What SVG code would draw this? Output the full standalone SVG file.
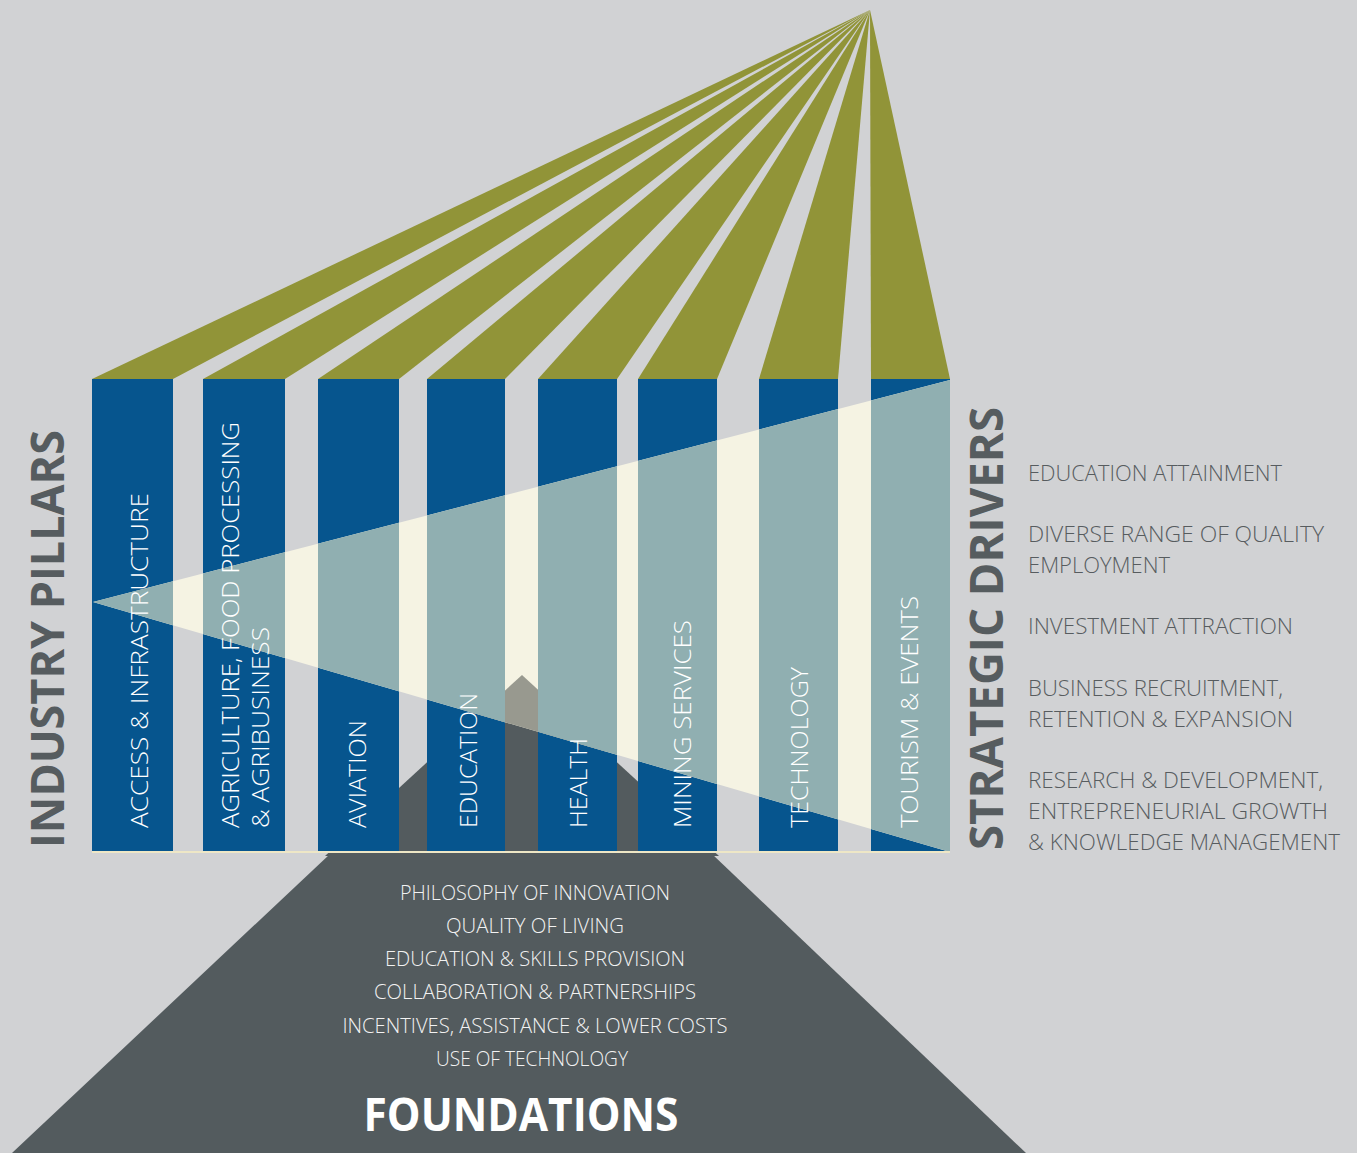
<svg xmlns="http://www.w3.org/2000/svg" width="1357" height="1153" viewBox="0 0 1357 1153">
<style>
.wedge{fill:#919438}
.pillar{fill:#06558E}
.pillar-lit{fill:#90AFB1}
.lbl{font-family:"Open Sans","Noto Sans","DejaVu Sans",sans-serif;font-weight:300;fill:#FFFFFF;font-size:24px}
.drv{font-family:"Open Sans","Noto Sans","DejaVu Sans",sans-serif;font-weight:300;fill:#575C5F;font-size:22px}
.fnd{font-family:"Open Sans","Noto Sans","DejaVu Sans",sans-serif;font-weight:300;fill:#F2F2F2;font-size:20px}
.title{font-family:"Open Sans","Noto Sans","DejaVu Sans",sans-serif;font-weight:700;fill:#565C5F;font-size:47px}
.ftitle{font-family:"Open Sans","Noto Sans","DejaVu Sans",sans-serif;font-weight:700;fill:#FFFFFF;font-size:46px}
</style>
<defs>
<clipPath id="beam">
<polygon points="93,602 950,380 950,852"/>
</clipPath>
</defs>
<rect x="0" y="0" width="1357" height="1153" fill="#D1D2D4"/>
<g id="wedges">
<polygon class="wedge" points="870,10 92,379 173,379"/>
<polygon class="wedge" points="870,10 203,379 285,379"/>
<polygon class="wedge" points="870,10 318,379 399,379"/>
<polygon class="wedge" points="870,10 427,379 505,379"/>
<polygon class="wedge" points="870,10 538,379 617,379"/>
<polygon class="wedge" points="870,10 638,379 717,379"/>
<polygon class="wedge" points="870,10 759,379 838,379"/>
<polygon class="wedge" points="870,10 871,379 950,379"/>
</g>
<polygon id="house" points="325,856 522,675 719,856" fill="#535B5E"/>
<g id="pillars">
<rect class="pillar" x="92" y="379" width="81" height="473"/>
<rect class="pillar" x="203" y="379" width="82" height="473"/>
<rect class="pillar" x="318" y="379" width="81" height="473"/>
<rect class="pillar" x="427" y="379" width="78" height="473"/>
<rect class="pillar" x="538" y="379" width="79" height="473"/>
<rect class="pillar" x="638" y="379" width="79" height="473"/>
<rect class="pillar" x="759" y="379" width="79" height="473"/>
<rect class="pillar" x="871" y="379" width="79" height="473"/>
</g>
<g id="beam-overlay" clip-path="url(#beam)">
<rect x="80" y="370" width="880" height="490" fill="#F5F3E3"/>
<polygon points="325,856 522,675 719,856" fill="#98998F"/>
<rect class="pillar-lit" x="92" y="379" width="81" height="473"/>
<rect class="pillar-lit" x="203" y="379" width="82" height="473"/>
<rect class="pillar-lit" x="318" y="379" width="81" height="473"/>
<rect class="pillar-lit" x="427" y="379" width="78" height="473"/>
<rect class="pillar-lit" x="538" y="379" width="79" height="473"/>
<rect class="pillar-lit" x="638" y="379" width="79" height="473"/>
<rect class="pillar-lit" x="759" y="379" width="79" height="473"/>
<rect class="pillar-lit" x="871" y="379" width="79" height="473"/>
</g>
<rect x="92" y="851" width="858" height="2" fill="#EEE7C6"/>
<g id="foundation">
<polygon points="330,854 712,854 1026,1153 12,1153" fill="#535B5E"/>
<text class="fnd" x="535" y="900" text-anchor="middle" textLength="270" lengthAdjust="spacingAndGlyphs">PHILOSOPHY OF INNOVATION</text>
<text class="fnd" x="535" y="933" text-anchor="middle" textLength="178" lengthAdjust="spacingAndGlyphs">QUALITY OF LIVING</text>
<text class="fnd" x="535" y="966" text-anchor="middle" textLength="300" lengthAdjust="spacingAndGlyphs">EDUCATION &amp; SKILLS PROVISION</text>
<text class="fnd" x="535" y="999" text-anchor="middle" textLength="322" lengthAdjust="spacingAndGlyphs">COLLABORATION &amp; PARTNERSHIPS</text>
<text class="fnd" x="535" y="1033" text-anchor="middle" textLength="385" lengthAdjust="spacingAndGlyphs">INCENTIVES, ASSISTANCE &amp; LOWER COSTS</text>
<text class="fnd" x="532" y="1066" text-anchor="middle" textLength="192" lengthAdjust="spacingAndGlyphs">USE OF TECHNOLOGY</text>
<text class="ftitle" x="521" y="1131" text-anchor="middle" textLength="315" lengthAdjust="spacingAndGlyphs">FOUNDATIONS</text>
</g>
<g id="pillar-labels">
<text class="lbl" transform="translate(148,828) rotate(-90)" textLength="335" lengthAdjust="spacingAndGlyphs">ACCESS &amp; INFRASTRUCTURE</text>
<text class="lbl" transform="translate(239,828) rotate(-90)" textLength="406" lengthAdjust="spacingAndGlyphs">AGRICULTURE, FOOD PROCESSING</text>
<text class="lbl" transform="translate(269,828) rotate(-90)" textLength="201" lengthAdjust="spacingAndGlyphs">&amp; AGRIBUSINESS</text>
<text class="lbl" transform="translate(366,828) rotate(-90)" textLength="108" lengthAdjust="spacingAndGlyphs">AVIATION</text>
<text class="lbl" transform="translate(477,828) rotate(-90)" textLength="135" lengthAdjust="spacingAndGlyphs">EDUCATION</text>
<text class="lbl" transform="translate(587,828) rotate(-90)" textLength="90" lengthAdjust="spacingAndGlyphs">HEALTH</text>
<text class="lbl" transform="translate(691,828) rotate(-90)" textLength="208" lengthAdjust="spacingAndGlyphs">MINING SERVICES</text>
<text class="lbl" transform="translate(808,828) rotate(-90)" textLength="161" lengthAdjust="spacingAndGlyphs">TECHNOLOGY</text>
<text class="lbl" transform="translate(918,828) rotate(-90)" textLength="232" lengthAdjust="spacingAndGlyphs">TOURISM &amp; EVENTS</text>
</g>
<g id="industry-pillars-title">
<text class="title" transform="translate(64,848) rotate(-90)" textLength="418" lengthAdjust="spacingAndGlyphs">INDUSTRY PILLARS</text>
</g>
<g id="strategic-drivers">
<text class="title" transform="translate(1003,850) rotate(-90)" textLength="443" lengthAdjust="spacingAndGlyphs">STRATEGIC DRIVERS</text>
<text class="drv" x="1028" y="481" textLength="254" lengthAdjust="spacingAndGlyphs">EDUCATION ATTAINMENT</text>
<text class="drv" x="1028" y="542" textLength="296" lengthAdjust="spacingAndGlyphs">DIVERSE RANGE OF QUALITY</text>
<text class="drv" x="1028" y="573" textLength="142" lengthAdjust="spacingAndGlyphs">EMPLOYMENT</text>
<text class="drv" x="1028" y="634" textLength="265" lengthAdjust="spacingAndGlyphs">INVESTMENT ATTRACTION</text>
<text class="drv" x="1028" y="696" textLength="255" lengthAdjust="spacingAndGlyphs">BUSINESS RECRUITMENT,</text>
<text class="drv" x="1028" y="727" textLength="265" lengthAdjust="spacingAndGlyphs">RETENTION &amp; EXPANSION</text>
<text class="drv" x="1028" y="788" textLength="295" lengthAdjust="spacingAndGlyphs">RESEARCH &amp; DEVELOPMENT,</text>
<text class="drv" x="1028" y="819" textLength="300" lengthAdjust="spacingAndGlyphs">ENTREPRENEURIAL GROWTH</text>
<text class="drv" x="1028" y="850" textLength="312" lengthAdjust="spacingAndGlyphs">&amp; KNOWLEDGE MANAGEMENT</text>
</g>
</svg>
